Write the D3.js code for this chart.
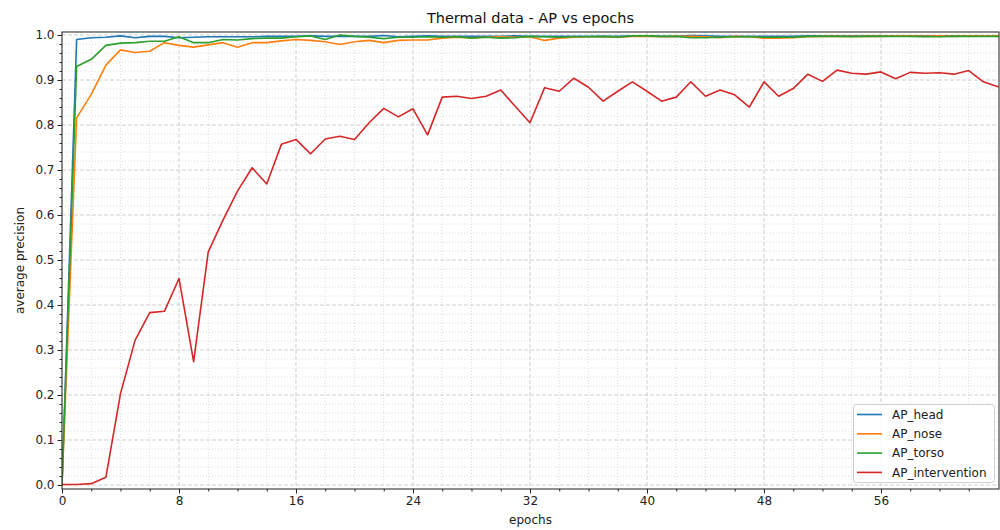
<!DOCTYPE html>
<html>
<head>
<meta charset="utf-8">
<script src="https://cdn.jsdelivr.net/npm/d3@7"></script>
<style>
  html, body { margin: 0; padding: 0; background: #fff; }
  svg { display: block; font-family: "DejaVu Sans", sans-serif; }
</style>
</head>
<body>
<svg id="chart" width="1000" height="530"></svg>
<script>
const epochs = d3.range(0, 65);
const seriesNames = ["AP_head", "AP_nose", "AP_torso", "AP_intervention"];
const seriesColors = ["#1f77b4", "#ff7f0e", "#2ca02c", "#d62728"];

const apHead = [0.0, 0.990, 0.994, 0.995, 0.998, 0.994, 0.997, 0.997, 0.994, 0.995,
  0.996, 0.996, 0.996, 0.996, 0.997, 0.997, 0.997, 0.998, 0.997, 0.997,
  0.997, 0.997, 0.999, 0.996, 0.997, 0.998, 0.997, 0.997, 0.997, 0.997,
  0.997, 0.998, 0.997, 0.997, 0.997, 0.997, 0.997, 0.997, 0.997, 0.998,
  0.998, 0.997, 0.997, 0.999, 0.998, 0.997, 0.997, 0.997, 0.997, 0.997,
  0.997, 0.998, 0.998, 0.998, 0.998, 0.998, 0.998, 0.998, 0.998, 0.998,
  0.998, 0.998, 0.998, 0.998, 0.998];
const apNose = [0.0, 0.816, 0.868, 0.933, 0.967, 0.961, 0.964, 0.983, 0.977, 0.973,
  0.978, 0.983, 0.973, 0.983, 0.983, 0.987, 0.990, 0.988, 0.985, 0.979,
  0.985, 0.988, 0.983, 0.988, 0.989, 0.989, 0.993, 0.995, 0.994, 0.995,
  0.996, 0.995, 0.996, 0.988, 0.993, 0.995, 0.996, 0.996, 0.995, 0.997,
  0.997, 0.996, 0.997, 0.997, 0.996, 0.994, 0.997, 0.996, 0.993, 0.993,
  0.994, 0.996, 0.997, 0.997, 0.997, 0.997, 0.997, 0.998, 0.998, 0.997,
  0.998, 0.997, 0.998, 0.998, 0.998];
const apTorso = [0.0, 0.930, 0.946, 0.977, 0.982, 0.983, 0.986, 0.986, 0.996, 0.983,
  0.983, 0.990, 0.989, 0.992, 0.993, 0.993, 0.996, 0.998, 0.990, 1.000,
  0.997, 0.995, 0.992, 0.995, 0.995, 0.996, 0.995, 0.996, 0.993, 0.995,
  0.993, 0.994, 0.997, 0.996, 0.995, 0.996, 0.996, 0.997, 0.995, 0.998,
  0.998, 0.997, 0.997, 0.994, 0.994, 0.995, 0.996, 0.996, 0.995, 0.995,
  0.995, 0.997, 0.997, 0.997, 0.996, 0.997, 0.997, 0.997, 0.997, 0.996,
  0.996, 0.997, 0.997, 0.997, 0.997];
const apIntervention = [0.001, 0.001, 0.003, 0.017, 0.203, 0.322, 0.383, 0.386, 0.459, 0.274,
  0.518, 0.588, 0.653, 0.705, 0.669, 0.757, 0.768, 0.736, 0.769, 0.775,
  0.768, 0.805, 0.837, 0.818, 0.836, 0.778, 0.862, 0.864, 0.859, 0.864,
  0.878, 0.841, 0.805, 0.883, 0.875, 0.904, 0.884, 0.853, 0.875, 0.896,
  0.875, 0.853, 0.862, 0.896, 0.864, 0.878, 0.867, 0.840, 0.896, 0.864,
  0.881, 0.913, 0.897, 0.922, 0.915, 0.913, 0.918, 0.903, 0.917, 0.915,
  0.916, 0.913, 0.921, 0.896, 0.885];

const xMajorTicks = [0, 8, 16, 24, 32, 40, 48, 56];
const xMinorTicks = d3.range(0, 64, 2);
const yMajorTicks = [0.0, 0.1, 0.2, 0.3, 0.4, 0.5, 0.6, 0.7, 0.8, 0.9, 1.0];
const yMinorTicks = d3.range(0, 51).map(i => +(i * 0.02).toFixed(2));

const allSeries = [apHead, apNose, apTorso, apIntervention];

const svg = d3.select("#chart");
const pLeft = 62, pRight = 999, pTop = 32, pBottom = 489;

const x = d3.scaleLinear().domain([0, 64.07]).range([pLeft, pRight]);
const y = d3.scaleLinear().domain([-0.0089, 1.0067]).range([pBottom, pTop]);

// grid
const grid = svg.append("g");
grid.selectAll("line.xminor").data(xMinorTicks.filter(t => xMajorTicks.indexOf(t) < 0)).join("line")
  .attr("x1", d => x(d)).attr("x2", d => x(d)).attr("y1", pTop).attr("y2", pBottom)
  .attr("stroke", "#dcdcdc").attr("stroke-width", 1).attr("stroke-dasharray", "1,2");
grid.selectAll("line.yminor").data(yMinorTicks.filter((t, i) => i % 5 !== 0)).join("line")
  .attr("x1", pLeft).attr("x2", pRight).attr("y1", d => y(d)).attr("y2", d => y(d))
  .attr("stroke", "#dcdcdc").attr("stroke-width", 1).attr("stroke-dasharray", "1,2");
grid.selectAll("line.xmajor").data(xMajorTicks).join("line")
  .attr("x1", d => x(d)).attr("x2", d => x(d)).attr("y1", pTop).attr("y2", pBottom)
  .attr("stroke", "#cfcfcf").attr("stroke-width", 1).attr("stroke-dasharray", "4,2");
grid.selectAll("line.ymajor").data(yMajorTicks).join("line")
  .attr("x1", pLeft).attr("x2", pRight).attr("y1", d => y(d)).attr("y2", d => y(d))
  .attr("stroke", "#cfcfcf").attr("stroke-width", 1).attr("stroke-dasharray", "4,2");

// lines
const line = d3.line().x((d, i) => x(epochs[i])).y(d => y(d));
svg.append("defs").append("clipPath").attr("id", "clip")
  .append("rect").attr("x", pLeft).attr("y", pTop).attr("width", pRight - pLeft).attr("height", pBottom - pTop);
const lines = svg.append("g").attr("clip-path", "url(#clip)");
allSeries.forEach((s, k) => {
  lines.append("path").datum(s).attr("d", line)
    .attr("fill", "none").attr("stroke", seriesColors[k]).attr("stroke-width", 1.6)
    .attr("stroke-linejoin", "round").attr("stroke-linecap", "square");
});

// axes
const xAxis = d3.axisBottom(x).tickValues(xMajorTicks).tickFormat(d3.format("d")).tickSize(4.5).tickPadding(3);
const xAxisMinor = d3.axisBottom(x).tickValues(xMinorTicks.filter(t => xMajorTicks.indexOf(t) < 0)).tickFormat("").tickSize(2.5);
const yAxis = d3.axisLeft(y).tickValues(yMajorTicks).tickFormat(d3.format(".1f")).tickSize(4.5).tickPadding(3);
const yAxisMinor = d3.axisLeft(y).tickValues(yMinorTicks.filter((t, i) => i % 5 !== 0)).tickFormat("").tickSize(2.5);

function styleAxis(g) {
  g.select(".domain").remove();
  g.selectAll("line").attr("stroke", "#222");
  g.selectAll("text").attr("fill", "#222").style("font-size", "12px").style("font-family", "DejaVu Sans");
}
svg.append("g").attr("transform", `translate(0,${pBottom})`).call(xAxis).call(styleAxis);
svg.append("g").attr("transform", `translate(0,${pBottom})`).call(xAxisMinor).call(styleAxis);
svg.append("g").attr("transform", `translate(${pLeft},0)`).call(yAxis).call(styleAxis);
svg.append("g").attr("transform", `translate(${pLeft},0)`).call(yAxisMinor).call(styleAxis);

// frame
svg.append("rect").attr("x", pLeft).attr("y", pTop).attr("width", pRight - pLeft).attr("height", pBottom - pTop)
  .attr("fill", "none").attr("stroke", "#333").attr("stroke-width", 1.1);

// labels
svg.append("text").attr("x", (pLeft + pRight) / 2).attr("y", 23).attr("text-anchor", "middle")
  .style("font-size", "14.5px").attr("fill", "#111").text("Thermal data - AP vs epochs");
svg.append("text").attr("x", (pLeft + pRight) / 2).attr("y", 524).attr("text-anchor", "middle")
  .style("font-size", "12px").attr("fill", "#222").text("epochs");
svg.append("text").attr("transform", `translate(24,${(pTop + pBottom) / 2}) rotate(-90)`).attr("text-anchor", "middle")
  .style("font-size", "12px").attr("fill", "#222").text("average precision");

// legend
const lg = svg.append("g");
lg.append("rect").attr("x", 853.5).attr("y", 404.5).attr("width", 141).attr("height", 78).attr("rx", 3)
  .attr("fill", "#fff").attr("fill-opacity", 0.85).attr("stroke", "#d0d0d0");
seriesNames.forEach((n, k) => {
  const yy = 414.5 + k * 19.3;
  lg.append("line").attr("x1", 857).attr("x2", 882).attr("y1", yy).attr("y2", yy)
    .attr("stroke", seriesColors[k]).attr("stroke-width", 1.6);
  lg.append("text").attr("x", 892).attr("y", yy + 4.3).style("font-size", "12px").attr("fill", "#222").text(n);
});
</script>
</body>
</html>
